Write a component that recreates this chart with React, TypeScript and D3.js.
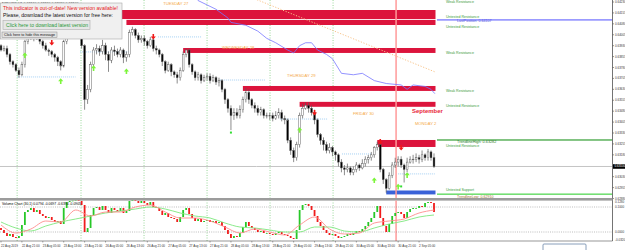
import React from "react";
import * as d3 from "d3";

// ---- main price series (NZDUSD H1, price in pips = price x 10000) ----
const firstOpen = 6393;
const closes = [
  6390, 6391, 6387, 6382, 6380, 6376, 6373, 6380, 6396, 6398,
  6400, 6398, 6400, 6396, 6393, 6390, 6389, 6387, 6385, 6382,
  6379, 6396, 6400, 6404, 6405, 6407, 6404, 6393, 6356, 6363,
  6380, 6390, 6391, 6389, 6393, 6387, 6383, 6390, 6389, 6387,
  6390, 6385, 6387, 6402, 6404, 6400, 6397, 6398, 6396, 6393,
  6397, 6391, 6390, 6387, 6382, 6376, 6380, 6375, 6373, 6371,
  6376, 6387, 6390, 6380, 6375, 6371, 6373, 6369, 6371, 6372,
  6369, 6371, 6368, 6369, 6363, 6356, 6350, 6345, 6347, 6345,
  6349, 6356, 6361, 6356, 6352, 6350, 6347, 6349, 6345, 6345,
  6345, 6343, 6345, 6347, 6343, 6342, 6328, 6321, 6316, 6325,
  6345, 6350, 6352, 6350, 6347, 6342, 6332, 6328, 6325, 6321,
  6323, 6320, 6318, 6313, 6309, 6308, 6309, 6306, 6308, 6311,
  6309, 6312, 6315, 6316, 6318, 6323, 6325, 6308, 6301, 6295,
  6304, 6311, 6313, 6315, 6311, 6308, 6313, 6315, 6315, 6316,
  6315, 6318, 6316, 6320, 6316, 6310,
];
const highs = [
  6394, 6393, 6393, 6388, 6383, 6381, 6378, 6382, 6397, 6401,
  6403, 6402, 6402, 6400, 6397, 6395, 6391, 6390, 6388, 6386,
  6383, 6397, 6402, 6406, 6408, 6409, 6408, 6405, 6394, 6366,
  6382, 6392, 6394, 6393, 6397, 6395, 6389, 6392, 6393, 6391,
  6392, 6391, 6389, 6404, 6406, 6405, 6402, 6400, 6400, 6397,
  6399, 6398, 6393, 6391, 6388, 6383, 6382, 6381, 6376, 6375,
  6378, 6389, 6391, 6391, 6381, 6376, 6375, 6374, 6373, 6374,
  6374, 6373, 6372, 6371, 6370, 6364, 6357, 6352, 6350, 6350,
  6352, 6358, 6364, 6363, 6357, 6354, 6352, 6351, 6350, 6347,
  6347, 6347, 6348, 6350, 6349, 6345, 6343, 6330, 6323, 6327,
  6347, 6353, 6354, 6354, 6352, 6349, 6343, 6333, 6330, 6327,
  6326, 6324, 6321, 6319, 6315, 6311, 6312, 6310, 6310, 6313,
  6312, 6315, 6317, 6318, 6320, 6324, 6327, 6326, 6309, 6302,
  6306, 6313, 6316, 6317, 6317, 6312, 6316, 6317, 6318, 6319,
  6318, 6321, 6319, 6322, 6321, 6319,
];
const lows = [
  6389, 6389, 6385, 6380, 6378, 6375, 6371, 6372, 6378, 6394,
  6397, 6396, 6397, 6394, 6391, 6389, 6386, 6385, 6382, 6379,
  6376, 6378, 6394, 6399, 6402, 6403, 6402, 6391, 6349, 6353,
  6361, 6378, 6387, 6386, 6387, 6383, 6375, 6381, 6386, 6385,
  6385, 6381, 6382, 6385, 6400, 6398, 6395, 6395, 6393, 6391,
  6392, 6389, 6387, 6385, 6379, 6374, 6375, 6372, 6371, 6367,
  6369, 6375, 6385, 6378, 6373, 6369, 6369, 6367, 6368, 6369,
  6367, 6368, 6366, 6365, 6361, 6353, 6347, 6335, 6342, 6343,
  6343, 6347, 6354, 6353, 6350, 6347, 6345, 6345, 6343, 6343,
  6342, 6341, 6342, 6343, 6341, 6339, 6326, 6318, 6313, 6314,
  6323, 6343, 6349, 6347, 6345, 6339, 6330, 6325, 6321, 6319,
  6319, 6317, 6314, 6310, 6306, 6304, 6306, 6304, 6304, 6306,
  6307, 6308, 6310, 6312, 6314, 6316, 6321, 6306, 6298, 6292,
  6294, 6302, 6309, 6310, 6309, 6299, 6306, 6312, 6312, 6313,
  6312, 6313, 6314, 6314, 6314, 6309,
];

// price axis ticks (pips)
const priceTicks = [6423, 6415.5, 6408, 6400.5, 6393, 6385.5, 6378, 6370.5, 6363, 6355.5, 6348, 6340.5, 6333, 6325.5, 6318, 6310.5, 6303, 6295.5, 6288];

// supply / demand zones: start candle, top, bottom (pips)
const zoneStart = [40, 42, 61, 81, 100, 126, 129];
const zoneTop = [6417.5, 6410.7, 6391.4, 6365.3, 6354.4, 6328.2, 6293.5];
const zoneBottom = [6411.3, 6407.2, 6388.0, 6361.9, 6351.0, 6323.4, 6290.8];
const zoneKind = ["res", "res", "res", "res", "res", "res", "sup"];

const zoneLabelText = ["Weak Resistance", "Untested Resistance", "Untested Resistance", "Weak Resistance", "Weak Resistance", "Untested Resistance", "Untested Resistance", "Untested Support"];
const zoneLabelPrice = [6423.4, 6413.2, 6405.8, 6388.3, 6361.9, 6351.6, 6324.1, 6294.2];

// level lines
const lastPosition = 6410.7;
const trendHigh = 6328.2;
const trendLow = 6291.0;

// arrows
const downIdx = [17, 51, 105, 127, 134];
const downPrice = [6394.9, 6399.0, 6346.8, 6326.8, 6322.7];
const upIdx = [8, 20, 31, 42, 100, 125, 133, 136];
const upPrice = [6386.6, 6368.8, 6377.7, 6375.6, 6335.2, 6300.7, 6296.3, 6304.2];
const dotIdx = [77, 134];
const dotPrice = [6333.3, 6296.3];

// dotted signal levels
const lvlFrom = [5.4, 26.5, 52.6, 73.3, 93.4, 114.2, 133];
const lvlTo = [25, 43, 67.3, 88.4, 109.5, 124.2, 145.3];
const lvlPrice = [6371.5, 6388.7, 6399.0, 6369.4, 6342.6, 6318.6, 6304.9];

// blue indicator line
const blueIdx = [64, 66, 72, 76, 77, 82, 86, 89, 92, 96, 98, 100, 102, 104, 106, 109, 111, 114, 118, 121, 125, 129, 134, 136, 138, 142, 144, 145.3];
const blueVal = [6430, 6424, 6418, 6412, 6409, 6407, 6403, 6398, 6395, 6390, 6388, 6393, 6395, 6395, 6390, 6387, 6384, 6374, 6373, 6374, 6369, 6367, 6366, 6363, 6366, 6365, 6363, 6360];

// orange trend line
const orangeIdx = [84, 145.3];
const orangeVal = [6426, 6375];

// day separators
const daySepIdx = [5.4, 26.8, 47.9, 69, 90.1, 111.2];
const monthSepIdx = 132.3;
const dayLabels = ["TUESDAY 27", "WEDNESDAY 28", "THURSDAY 29", "FRIDAY 30", "MONDAY 2"];
const dayLabelIdx = [54.3, 74, 95.8, 117.9, 138.6];
const dayLabelPrice = [6421, 6390.7, 6371.5, 6345.4, 6338.5];

// time axis
const timeLabelIdx = [0, 7, 14, 21, 28, 35, 42, 49, 56, 63, 70, 77, 84, 91, 98, 105, 112, 119, 126, 133, 140];
const timeLabels = ["22 Aug 2019", "22 Aug 21:00", "23 Aug 05:00", "23 Aug 13:00", "23 Aug 21:00", "26 Aug 05:00", "26 Aug 13:00", "26 Aug 21:00", "27 Aug 05:00", "27 Aug 13:00", "27 Aug 21:00", "28 Aug 05:00", "28 Aug 13:00", "28 Aug 21:00", "29 Aug 05:00", "29 Aug 13:00", "29 Aug 21:00", "30 Aug 05:00", "30 Aug 13:00", "30 Aug 21:00", "2 Sep 05:00"];

// ---- lower indicator: Volume Chart ----
const oscFirstOpen = 16;
const oscClose = [
  8, -4, -16, -8, -20, -24, -16, 28, 80, 88,
  96, 80, 88, 72, 64, 56, 60, 48, 40, 44,
  32, 96, 120, 124, 126, 128, 124, 108, 0, 16,
  68, 96, 100, 88, 104, 88, 76, 96, 88, 84,
  96, 76, 84, 124, 128, 124, 116, 124, 116, 108,
  120, 100, 96, 84, 68, 76, 60, 56, 52, 40,
  60, 88, 96, 72, 56, 44, 52, 40, 44, 48,
  40, 44, 36, 40, 24, 8, -8, -24, -16, -20,
  -4, 20, 40, 24, 16, 8, 0, 4, -4, -4,
  -8, -12, -4, 0, -8, -12, -16, -24, -28, 8,
  88, 108, 112, 104, 88, 64, 40, 24, 8, -4,
  -12, -8, -16, -24, -20, -16, -8, -12, -4, 4,
  0, 12, 24, 40, 56, 80, 104, 56, 24, 0,
  32, 64, 76, 80, 72, 56, 80, 92, 96, 96,
  104, 100, 116, 120, 116, 80,
];
const maIdx = [0, 5, 10, 15, 20, 25, 30, 35, 40, 45, 50, 55, 60, 65, 70, 75, 80, 85, 90, 95, 100, 105, 110, 115, 120, 125, 130, 135, 140, 145];
const fastMA = [28, -4, 12, 44, 40, 88, 64, 80, 80, 100, 108, 80, 56, 56, 44, 20, -4, 12, 0, -12, 28, 60, 12, -8, -4, 36, 44, 52, 76, 88];
const slowMA = [40, 16, 4, 24, 40, 52, 64, 76, 84, 92, 100, 92, 76, 64, 56, 36, 20, 16, 8, 0, 0, 20, 20, 4, 0, 16, 32, 44, 60, 68];
const oscTicks = [120, 100, 0, -32];
const oscTickLabels = ["0.1280", "0.1000", "0.0000", "-0.0320"];

const FONT = "'Liberation Sans', Arial, sans-serif";

export default function App() {
  const N = closes.length;
  const x = d3.scaleLinear().domain([0, N - 1]).range([1, 434]);
  const y = d3.scaleLinear().domain([6288, 6423]).range([198.5, 2]);
  const yo = d3.scaleLinear().domain([-32, 128]).range([240, 200]);
  const opens = closes.map((c, i) => (i === 0 ? firstOpen : closes[i - 1]));
  const oOpens = oscClose.map((c, i) => (i === 0 ? oscFirstOpen : oscClose[i - 1]));
  const fmt = (p: number) => (p / 10000).toFixed(5);
  const zoneEnd = x(N - 1) + 1.5;
  const axisX = 612.5;

  const blueLine = d3
    .line<number>()
    .x((_, i) => x(blueIdx[i]))
    .y((d) => y(d))(blueVal);
  const orangeLine = d3
    .line<number>()
    .x((_, i) => x(orangeIdx[i]))
    .y((d) => y(d))(orangeVal);
  const fastLine = d3
    .line<number>()
    .curve(d3.curveMonotoneX)
    .x((_, i) => x(maIdx[i]))
    .y((d) => yo(d))(fastMA);
  const slowLine = d3
    .line<number>()
    .curve(d3.curveMonotoneX)
    .x((_, i) => x(maIdx[i]))
    .y((d) => yo(d))(slowMA);

  const last = N - 1;
  const title = `NZDUSD,H1 ${fmt(opens[last])} ${fmt(highs[last])} ${fmt(lows[last])} ${fmt(closes[last])}`;

  const downArrow = (cx: number, cy: number) =>
    `M${cx - 0.8},${cy - 3} h1.6 v2.6 h1.8 L${cx},${cy + 2.6} L${cx - 2.6},${cy - 0.4} h1.8 Z`;
  const upArrow = (cx: number, cy: number) =>
    `M${cx - 0.8},${cy + 3} h1.6 v-2.6 h1.8 L${cx},${cy - 2.6} L${cx - 2.6},${cy + 0.4} h1.8 Z`;

  return (
    <svg
      width={625}
      height={250}
      viewBox="0 0 625 250"
      style={{ position: "fixed", left: 0, top: 0, background: "#ffffff", fontFamily: FONT }}
    >
      <defs>
        <clipPath id="mainClip">
          <rect x={0} y={0} width={axisX} height={198} />
        </clipPath>
        <clipPath id="subClip">
          <rect x={0} y={200.5} width={axisX} height={40.5} />
        </clipPath>
      </defs>
      <rect x={0} y={0} width={625} height={250} fill="#ffffff" />

      {/* ===== main window ===== */}
      <g clipPath="url(#mainClip)">
        {daySepIdx.map((d, i) => (
          <line key={"ds" + i} x1={x(d)} x2={x(d)} y1={0} y2={198} stroke="#9ad89a" strokeWidth={1} strokeDasharray="1,1.5" />
        ))}
        <line x1={0} x2={axisX} y1={y(closes[last])} y2={y(closes[last])} stroke="#c4c4c4" strokeWidth={1} />
        {zoneStart.map((s, i) => (
          <rect
            key={"z" + i}
            x={x(s)}
            width={zoneEnd - x(s)}
            y={y(zoneTop[i])}
            height={y(zoneBottom[i]) - y(zoneTop[i])}
            fill={zoneKind[i] === "res" ? "#dc143c" : "#3a62d8"}
          />
        ))}
        <line x1={x(monthSepIdx)} x2={x(monthSepIdx)} y1={0} y2={198} stroke="#ff9a9a" strokeWidth={1.5} />
        <path d={orangeLine || ""} fill="none" stroke="#f9c48a" strokeWidth={1} strokeDasharray="1.2,1.6" />
        <path d={blueLine || ""} fill="none" stroke="#7777ff" strokeWidth={0.8} />
        <line x1={x(last) + 3} x2={axisX} y1={y(lastPosition)} y2={y(lastPosition)} stroke="#9b9bff" strokeWidth={1.6} />
        <line x1={x(last) + 3} x2={axisX} y1={y(trendHigh)} y2={y(trendHigh)} stroke="#0a8a0a" strokeWidth={1} />
        <line x1={x(last) + 3} x2={axisX} y1={y(trendLow)} y2={y(trendLow)} stroke="#22cc22" strokeWidth={1} />
        {lvlPrice.map((p, i) => (
          <line key={"lv" + i} x1={x(lvlFrom[i])} x2={x(lvlTo[i])} y1={y(p)} y2={y(p)} stroke="#8ec4f0" strokeWidth={0.8} strokeDasharray="1,1" />
        ))}
        {closes.map((c, i) => {
          const o = opens[i];
          const hi = Math.max(highs[i], o, c);
          const lo = Math.min(lows[i], o, c);
          const bull = c >= o;
          const cx = x(i);
          const top = y(Math.max(o, c));
          const h = Math.max(0.6, y(Math.min(o, c)) - top);
          return (
            <g key={"c" + i}>
              <line x1={cx} x2={cx} y1={y(hi)} y2={y(lo)} stroke="#5a5a5a" strokeWidth={0.7} />
              <rect x={cx - 0.9} width={1.8} y={top} height={h} fill={bull ? "#ffffff" : "#000000"} stroke="#5a5a5a" strokeWidth={0.45} />
            </g>
          );
        })}
        {downIdx.map((d, i) => (
          <path key={"da" + i} d={downArrow(x(d), y(downPrice[i]))} fill="#f01818" />
        ))}
        {upIdx.map((d, i) => (
          <path key={"ua" + i} d={upArrow(x(d), y(upPrice[i]))} fill="#7cf53a" />
        ))}
        {dotIdx.map((d, i) => (
          <rect key={"dt" + i} x={x(d) - 1} y={y(dotPrice[i]) - 1} width={2} height={2} fill="#33dd33" />
        ))}
        {dayLabels.map((t, i) => (
          <text key={"dl" + i} x={x(dayLabelIdx[i])} y={y(dayLabelPrice[i])} fontSize={4.2} fill="#f5aa4a">
            {t}
          </text>
        ))}
        <text x={x(137.6)} y={y(6346.8)} fontSize={6} fontWeight="bold" fill="#e8283a" textLength={31} lengthAdjust="spacingAndGlyphs">
          September
        </text>
        {zoneLabelText.map((t, i) => (
          <text key={"zl" + i} x={446} y={y(zoneLabelPrice[i]) + 1.3} fontSize={3.6} fill="#3a9a3a">
            {t}
          </text>
        ))}
        <text x={457} y={y(lastPosition) + 2.4} fontSize={3.6} fill="#5050e0">
          {`LastPosition: ${fmt(lastPosition)}`}
        </text>
        <text x={457} y={y(trendHigh) + 3.4} fontSize={3.8} fill="#2a7a2a">
          {`TrendlineHigh: ${fmt(trendHigh)}`}
        </text>
        <text x={457} y={y(trendLow) + 3.6} fontSize={3.6} fill="#a07030">
          {`TrendlineLow: ${fmt(trendLow)}`}
        </text>
        <text x={2} y={4.5} fontSize={3.6} fill="#000">
          {title}
        </text>
      </g>

      {/* price axis */}
      <line x1={axisX} x2={axisX} y1={0} y2={241} stroke="#505050" strokeWidth={0.8} />
      {priceTicks.map((p, i) => (
        <g key={"pt" + i}>
          <line x1={axisX} x2={axisX + 1.5} y1={y(p)} y2={y(p)} stroke="#505050" strokeWidth={0.6} />
          <text x={615} y={y(p) + 1} fontSize={3} fill="#333">
            {fmt(p)}
          </text>
        </g>
      ))}
      <rect x={613} y={y(closes[last]) - 2.3} width={12} height={4.6} fill="#000" />
      <text x={614.5} y={y(closes[last]) + 1} fontSize={3} fill="#fff">
        {fmt(closes[last])}
      </text>

      {/* separator */}
      <rect x={0} y={198} width={axisX} height={2.6} fill="#9c9c9c" />

      {/* ===== lower window ===== */}
      <g clipPath="url(#subClip)">
        {daySepIdx.map((d, i) => (
          <line key={"ds2" + i} x1={x(d)} x2={x(d)} y1={200} y2={241} stroke="#9ad89a" strokeWidth={1} strokeDasharray="1,1.5" />
        ))}
        <line x1={x(monthSepIdx)} x2={x(monthSepIdx)} y1={200} y2={241} stroke="#ff9a9a" strokeWidth={1.5} />
        <line x1={0} x2={axisX} y1={yo(100)} y2={yo(100)} stroke="#909090" strokeWidth={0.6} strokeDasharray="1,1.2" />
        <line x1={0} x2={axisX} y1={yo(0)} y2={yo(0)} stroke="#909090" strokeWidth={0.6} strokeDasharray="1,1.2" />
        {oscClose.map((c, i) => {
          const o = oOpens[i];
          const top = yo(Math.max(o, c));
          const h = Math.max(0.8, yo(Math.min(o, c)) - top);
          return <rect key={"o" + i} x={x(i) - 0.9} width={1.8} y={top} height={h} fill={c >= o ? "#28c828" : "#f01c1c"} />;
        })}
        <path d={slowLine || ""} fill="none" stroke="#7ee87e" strokeWidth={0.9} />
        <path d={fastLine || ""} fill="none" stroke="#ff8c8c" strokeWidth={0.9} />
        <text x={2} y={205} fontSize={3.4} fill="#000">
          Volume Chart (30,1) 0.0794 -0.0697 -0.6394 -0.0905
        </text>
      </g>
      {oscTicks.map((v, i) => (
        <text key={"ot" + i} x={615} y={yo(v) + 1} fontSize={3} fill="#333">
          {oscTickLabels[i]}
        </text>
      ))}
      <line x1={0} x2={axisX} y1={241} y2={241} stroke="#505050" strokeWidth={0.6} />

      {/* time axis */}
      {timeLabelIdx.map((d, i) => (
        <g key={"tl" + i}>
          <line x1={x(d)} x2={x(d)} y1={241} y2={242.5} stroke="#505050" strokeWidth={0.5} />
          <text x={x(d)} y={246.5} fontSize={3} fill="#333">
            {timeLabels[i]}
          </text>
        </g>
      ))}
      <rect x={543} y={244} width={43} height={8} rx={1} fill="#ffffff" stroke="#6a86a8" strokeWidth={0.8} />

      {/* ===== out-of-date popup ===== */}
      <g>
        <rect x={0.5} y={3} width={121.5} height={36} fill="#f0f0f0" stroke="#a8a8a8" strokeWidth={0.6} />
        <text x={3} y={10} fontSize={4.6} fill="#e81818" textLength={115} lengthAdjust="spacingAndGlyphs">
          This indicator is out-of-date! New version available!
        </text>
        <text x={3} y={17} fontSize={4.6} fill="#111" textLength={110} lengthAdjust="spacingAndGlyphs">
          Please, download the latest version for free here:
        </text>
        <rect x={3} y={20.5} width={87} height={9} fill="#e6e6e6" stroke="#b0b0b0" strokeWidth={0.6} />
        <text x={6} y={27} fontSize={4.6} fill="#2a9a3a" textLength={82} lengthAdjust="spacingAndGlyphs">
          Click here to download latest version
        </text>
        <rect x={2} y={32} width={55} height={5.5} fill="#e2e2e2" stroke="#8a8a8a" strokeWidth={0.5} />
        <text x={4} y={36.3} fontSize={3.2} fill="#111" textLength={51} lengthAdjust="spacingAndGlyphs">
          Click here to hide this message
        </text>
      </g>
    </svg>
  );
}
